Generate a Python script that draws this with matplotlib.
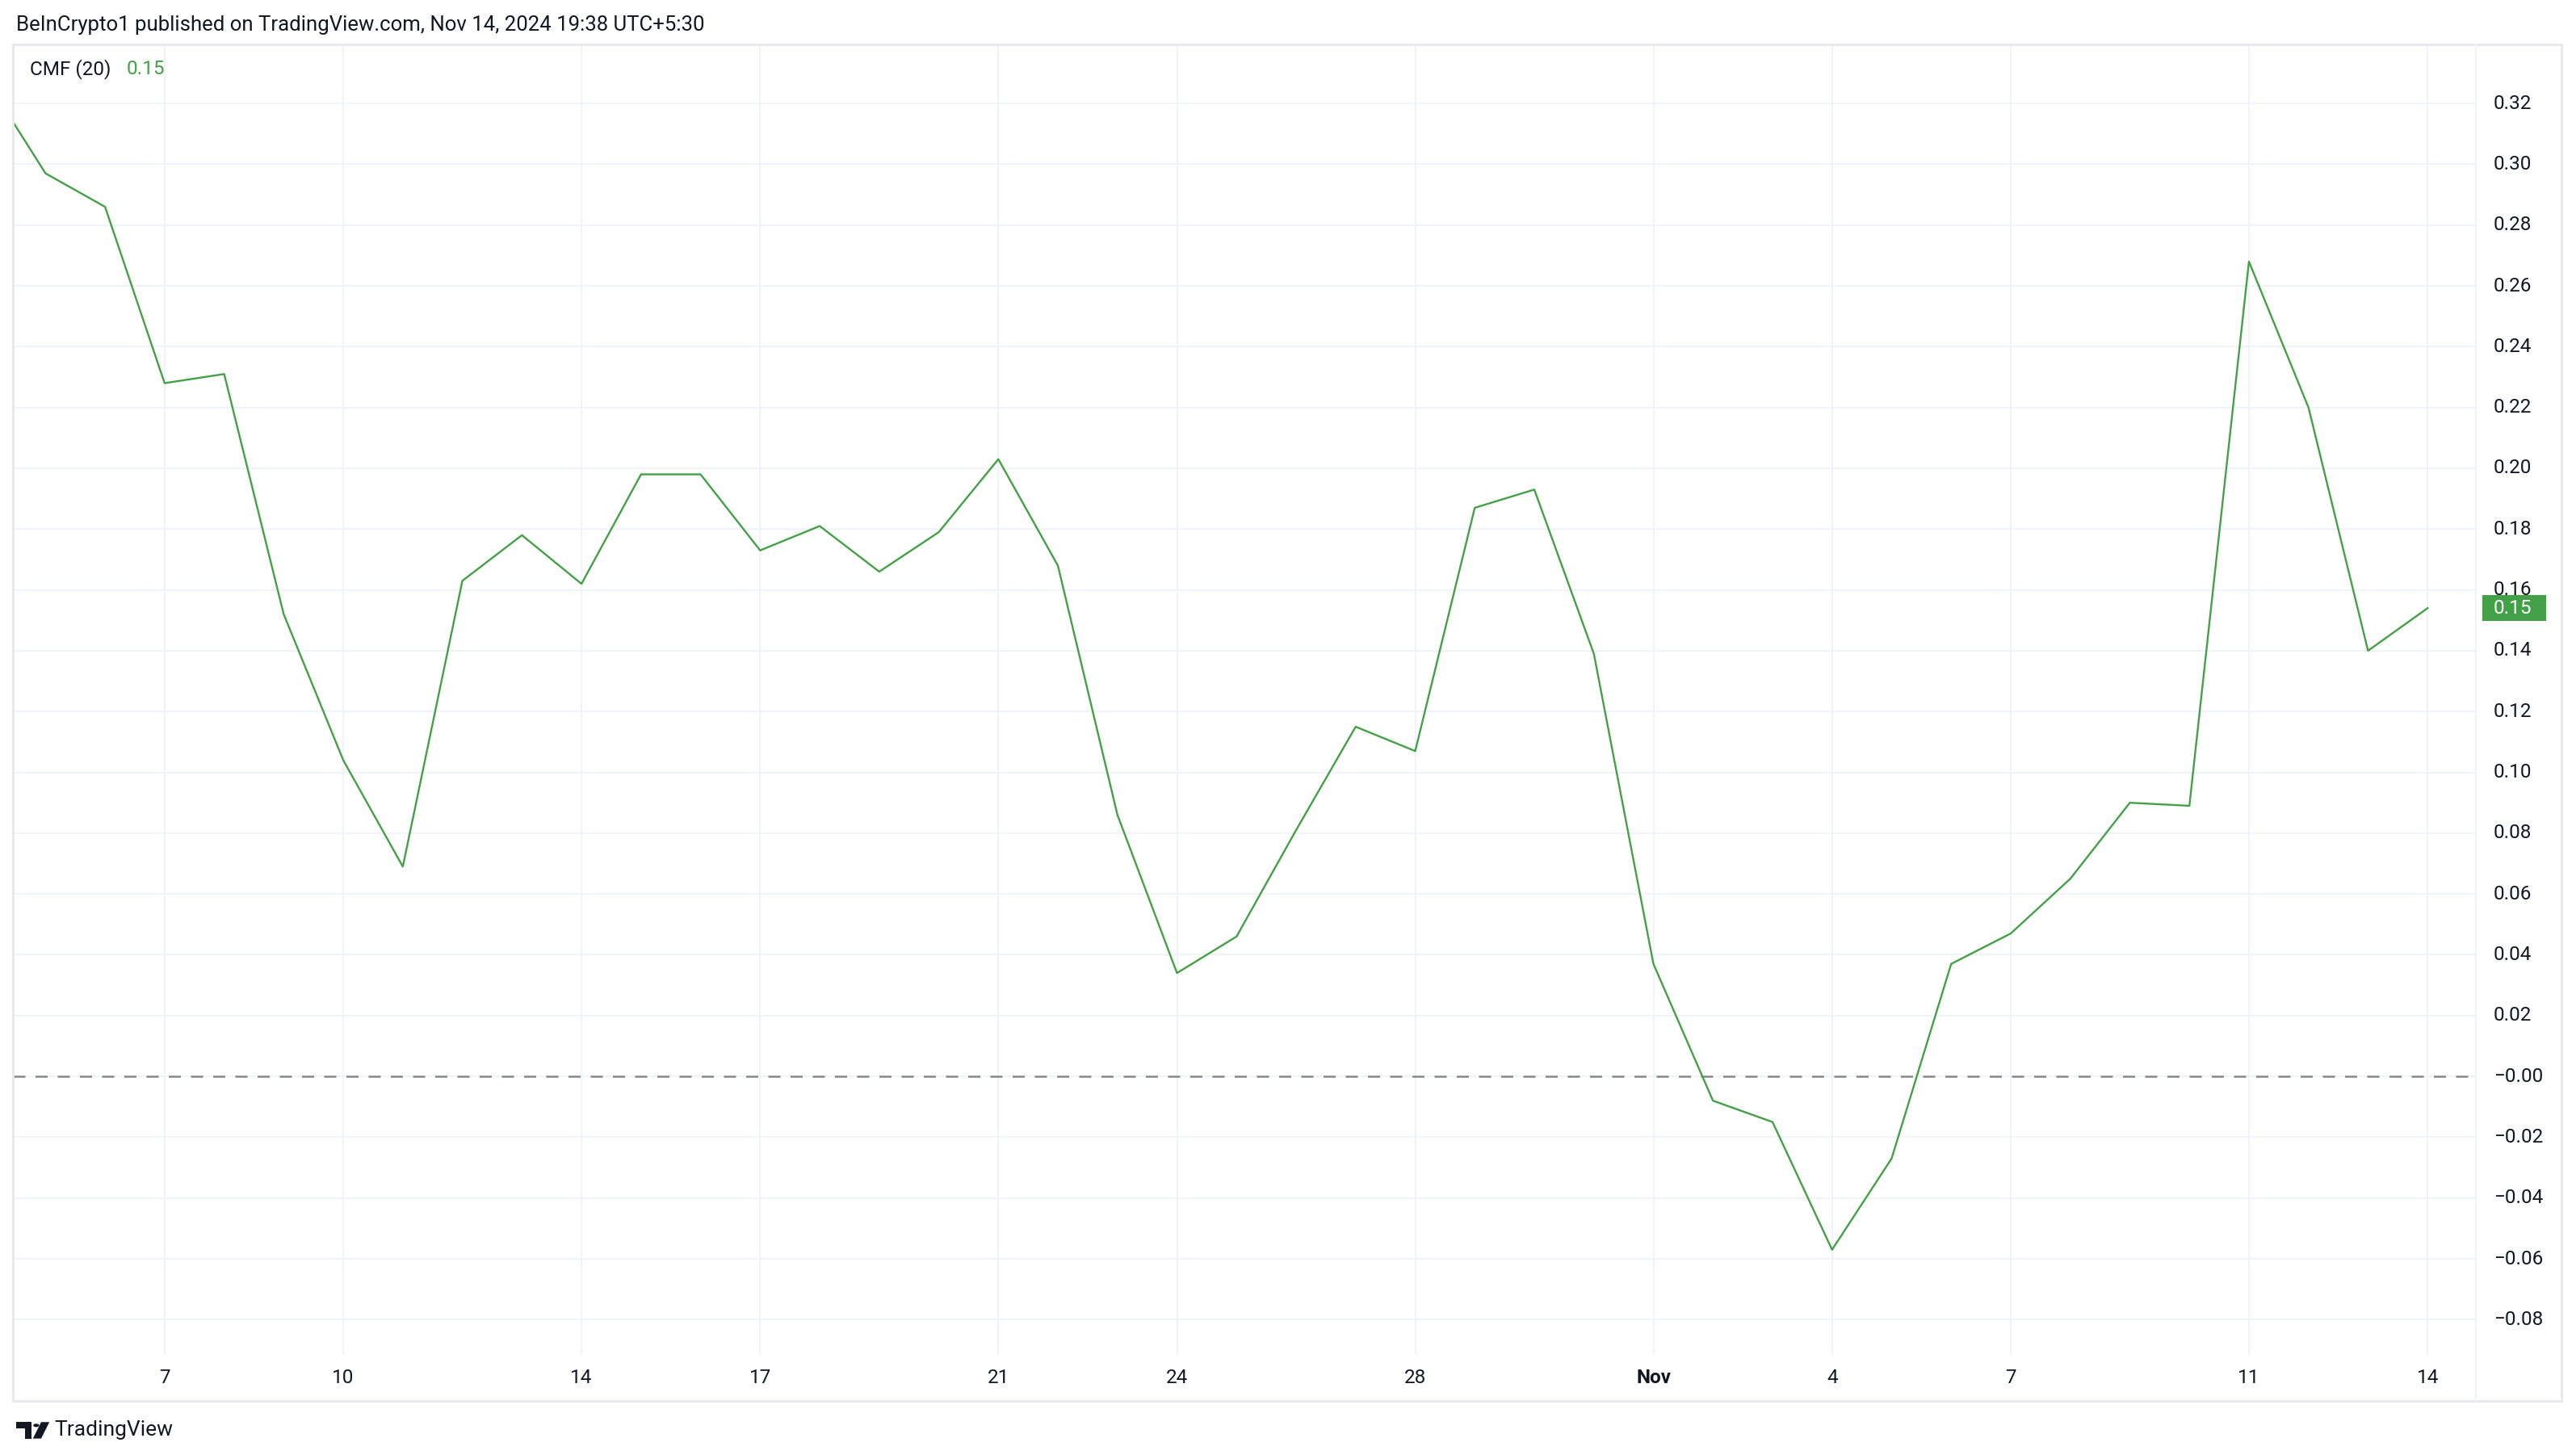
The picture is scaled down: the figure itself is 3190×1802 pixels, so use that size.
import matplotlib.pyplot as plt
import matplotlib.patches as patches
import numpy as np

# CMF(20) daily values, Oct 4 .. Nov 14 2024
dates = ["Oct 4", "Oct 5", "Oct 6", "Oct 7", "Oct 8", "Oct 9", "Oct 10", "Oct 11",
         "Oct 12", "Oct 13", "Oct 14", "Oct 15", "Oct 16", "Oct 17", "Oct 18",
         "Oct 19", "Oct 20", "Oct 21", "Oct 22", "Oct 23", "Oct 24", "Oct 25",
         "Oct 26", "Oct 27", "Oct 28", "Oct 29", "Oct 30", "Oct 31", "Nov 1",
         "Nov 2", "Nov 3", "Nov 4", "Nov 5", "Nov 6", "Nov 7", "Nov 8", "Nov 9",
         "Nov 10", "Nov 11", "Nov 12", "Nov 13", "Nov 14"]
cmf = [0.328, 0.297, 0.286, 0.228, 0.231, 0.152, 0.104, 0.069,
       0.163, 0.178, 0.162, 0.198, 0.198, 0.173, 0.181,
       0.166, 0.179, 0.203, 0.168, 0.086, 0.034, 0.046,
       0.081, 0.115, 0.107, 0.187, 0.193, 0.139, 0.037,
       -0.008, -0.015, -0.057, -0.027, 0.037, 0.047, 0.065, 0.090,
       0.089, 0.268, 0.220, 0.140, 0.154]

tick_days = [3, 6, 10, 13, 17, 20, 24, 28, 31, 34, 38, 41]
tick_labels = ["7", "10", "14", "17", "21", "24", "28", "Nov", "4", "7", "11", "14"]
y_ticks = [-0.08, -0.06, -0.04, -0.02, 0.0, 0.02, 0.04, 0.06, 0.08, 0.10, 0.12,
           0.14, 0.16, 0.18, 0.20, 0.22, 0.24, 0.26, 0.28, 0.30, 0.32]

green = "#43a047"
grid_c = "#f0f3fa"
txt_c = "#131722"

plt.rcParams['font.family'] = ['Roboto', 'DejaVu Sans']

fig = plt.figure(figsize=(31.9, 18.02), dpi=100)
fig.patch.set_facecolor("white")

x0, x1 = 8 / 1565, 1504 / 1565
y0, y1 = 1 - 823 / 884, 1 - 27 / 884
ax = fig.add_axes([x0, y0, x1 - x0, y1 - y0])
ax.set_facecolor("white")

days = np.arange(len(cmf))
ax.set_xlim(0.457, 41.806)
ax.set_ylim(-0.0915, 0.3394)

for t in y_ticks:
    ax.axhline(t, color=grid_c, lw=1.5, zorder=0)
for d in tick_days:
    ax.axvline(d, color=grid_c, lw=1.5, zorder=0)

ax.axhline(0, color="#888888", lw=1.8, ls=(0, (6, 5)), zorder=1)
ax.plot(days, cmf, color=green, lw=1.7, zorder=2)

ax.set_xticks([])
ax.set_yticks([])
for s in ax.spines.values():
    s.set_visible(False)

# price scale labels
lab_x = 1.0 + 11 / 1496
for t in y_ticks:
    lab = "%.2f" % t
    if t <= 0:
        lab = "\u2212" + "%.2f" % abs(t)
    ax.text(lab_x, t, lab, transform=ax.get_yaxis_transform(),
            ha="left", va="center", fontsize=17.5, color=txt_c, clip_on=False)

# last value label
last = cmf[-1]
box = patches.Rectangle((1.0 + 4 / 1496, last - 0.0042), 39 / 1496, 0.0084,
                        transform=ax.get_yaxis_transform(), fc=green, ec="none",
                        clip_on=False, zorder=3)
ax.add_patch(box)
ax.text(lab_x, last, "%.2f" % last, transform=ax.get_yaxis_transform(),
        ha="left", va="center", fontsize=17.5, color="white", clip_on=False, zorder=4)

# time labels
for d, lab in zip(tick_days, tick_labels):
    ax.text(d, -0.0915 - 0.0045, lab, ha="center", va="top", fontsize=17.5,
            color=txt_c, fontweight="bold" if lab == "Nov" else "normal", clip_on=False)

# outer frame
frame = patches.Rectangle((8 / 1565, 1 - 851 / 884), (1556 - 8) / 1565, (851 - 27) / 884,
                          transform=fig.transFigure, fill=False, ec="#e6e8ee", lw=2)
fig.add_artist(frame)
fig.add_artist(plt.Line2D([x1, x1], [1 - 851 / 884, y1], transform=fig.transFigure,
                          color="#f0f3fa", lw=1.5))

# header and legend
fig.text(10 / 1565, 1 - 15 / 884, "BeInCrypto1 published on TradingView.com, Nov 14, 2024 19:38 UTC+5:30",
         ha="left", va="center", fontsize=18.5, color=txt_c)
fig.text(18 / 1565, 1 - 42 / 884, "CMF (20)", ha="left", va="center", fontsize=17.5, color=txt_c)
fig.text(77 / 1565, 1 - 42 / 884, "0.15", ha="left", va="center", fontsize=17.5, color=green)

# TradingView logo
lx, ly = 10 / 1565, 1 - 869 / 884
sc_x, sc_y = 1 / 1565, 1 / 884
fig.add_artist(patches.Polygon([(lx, ly + 5 * sc_y), (lx + 9 * sc_x, ly + 5 * sc_y),
                                (lx + 9 * sc_x, ly - 5 * sc_y), (lx + 5 * sc_x, ly - 5 * sc_y),
                                (lx + 5 * sc_x, ly + 1 * sc_y), (lx, ly + 1 * sc_y)],
                               closed=True, transform=fig.transFigure, fc=txt_c, ec="none"))
fig.add_artist(patches.Circle((lx + 12 * sc_x, ly + 3 * sc_y), 1.8 * sc_x, transform=fig.transFigure,
                              fc=txt_c, ec="none"))
fig.add_artist(patches.Polygon([(lx + 15 * sc_x, ly + 5 * sc_y), (lx + 20 * sc_x, ly + 5 * sc_y),
                                (lx + 15 * sc_x, ly - 5 * sc_y), (lx + 10 * sc_x, ly - 5 * sc_y)],
                               closed=True, transform=fig.transFigure, fc=txt_c, ec="none"))
fig.text(lx + 23 * sc_x, ly, "TradingView", ha="left", va="center", fontsize=19, color=txt_c)

fig.savefig("out.png", dpi=100, facecolor="white")
